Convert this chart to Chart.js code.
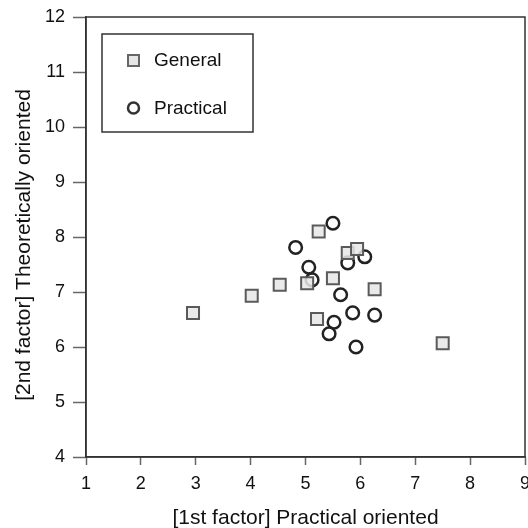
<!DOCTYPE html>
<html>
<head>
<meta charset="utf-8">
<script src="https://cdn.jsdelivr.net/npm/chart.js@4"></script>
<style>
  html, body { margin: 0; padding: 0; background: #fff; }
  #wrap { width: 528px; height: 528px; }
</style>
</head>
<body>
<div id="wrap"><canvas id="chart" width="528" height="528"></canvas></div>
<script>
// General (squares)
const generalX = [2.95, 4.02, 4.53, 5.03, 5.21, 5.24, 5.5, 5.77, 5.94, 6.26, 7.5];
const generalY = [6.62, 6.93, 7.13, 7.16, 6.51, 8.1, 7.25, 7.71, 7.78, 7.05, 6.07];
// Practical (circles)
const practicalX = [4.82, 5.06, 5.12, 5.5, 5.77, 6.08, 5.64, 5.86, 6.26, 5.52, 5.43, 5.92];
const practicalY = [7.81, 7.45, 7.22, 8.25, 7.53, 7.64, 6.95, 6.62, 6.58, 6.45, 6.24, 6.0];

const xTicks = [1, 2, 3, 4, 5, 6, 7, 8, 9];
const yTicks = [4, 5, 6, 7, 8, 9, 10, 11, 12];

const font = 'Liberation Sans, Arial, Helvetica, sans-serif';
const yTitle = '[2nd factor] Theoretically oriented';

function pts(xs, ys) {
  return xs.map((x, i) => ({ x: x, y: ys[i] }));
}

// frame, y title and legend box drawn on top of the chart
const framePlugin = {
  id: 'frame',
  afterDraw(chart) {
    const ctx = chart.ctx;
    const a = chart.chartArea;
    ctx.save();
    ctx.strokeStyle = '#333';
    ctx.lineWidth = 1.5;
    ctx.strokeRect(a.left, a.top, a.right - a.left, a.bottom - a.top);

    // y axis title (sits a bit below the middle in the original)
    ctx.save();
    ctx.translate(24, (a.top + a.bottom) / 2 + 8);
    ctx.rotate(-Math.PI / 2);
    ctx.font = '21px ' + font;
    ctx.fillStyle = '#111';
    ctx.textAlign = 'center';
    ctx.textBaseline = 'middle';
    ctx.fillText(yTitle, 0, 0);
    ctx.restore();

    // legend
    const lx = a.left + 16, ly = a.top + 17;
    ctx.lineWidth = 1.5;
    ctx.strokeStyle = '#333';
    ctx.strokeRect(lx, ly, 151, 98);
    ctx.font = '19px ' + font;
    ctx.fillStyle = '#111';
    ctx.textBaseline = 'middle';
    ctx.fillText('General', lx + 52, ly + 27);
    ctx.fillText('Practical', lx + 52, ly + 75);
    // markers
    ctx.fillStyle = '#e6e6e6';
    ctx.strokeStyle = '#666';
    ctx.lineWidth = 2;
    ctx.fillRect(lx + 26, ly + 21, 11, 11);
    ctx.strokeRect(lx + 26, ly + 21, 11, 11);
    ctx.strokeStyle = '#333';
    ctx.lineWidth = 2.5;
    ctx.beginPath();
    ctx.arc(lx + 31.5, ly + 74, 5.5, 0, Math.PI * 2);
    ctx.stroke();
    ctx.restore();
  }
};

const config = {
  type: 'scatter',
  data: {
    datasets: [
      {
        label: 'General',
        data: pts(generalX, generalY),
        pointStyle: 'rect',
        pointRadius: 8.5,
        pointHoverRadius: 8.5,
        backgroundColor: 'rgba(230,230,230,0.85)',
        borderColor: '#5a5a5a',
        borderWidth: 2
      },
      {
        label: 'Practical',
        data: pts(practicalX, practicalY),
        pointStyle: 'circle',
        pointRadius: 6.3,
        pointHoverRadius: 6.3,
        backgroundColor: 'rgba(0,0,0,0)',
        borderColor: '#222',
        borderWidth: 2.5
      }
    ]
  },
  options: {
    responsive: false,
    animation: false,
    layout: { autoPadding: false, padding: { top: 17, right: 3, left: 0, bottom: 0 } },
    plugins: {
      legend: { display: false },
      tooltip: { enabled: false }
    },
    scales: {
      x: {
        type: 'linear',
        min: 1,
        max: 9,
        afterBuildTicks: (s) => { s.ticks = xTicks.map(v => ({ value: v })); },
        afterFit: (s) => { s.height = 71; s.paddingLeft = 0; s.paddingRight = 0; },
        grid: { drawOnChartArea: false, tickLength: 8, color: '#666', tickWidth: 1.5 },
        border: { color: '#333', width: 1.5 },
        ticks: { color: '#111', font: { family: font, size: 18 }, padding: 8, maxRotation: 0 },
        title: {
          display: true,
          text: '[1st factor] Practical oriented',
          color: '#111',
          font: { family: font, size: 21 },
          padding: { top: 0, bottom: -3 }
        }
      },
      y: {
        type: 'linear',
        min: 4,
        max: 12,
        afterBuildTicks: (s) => { s.ticks = yTicks.map(v => ({ value: v })); },
        afterFit: (s) => { s.width = 86; s.paddingTop = 0; s.paddingBottom = 0; },
        grid: { drawOnChartArea: false, tickLength: 13, color: '#666', tickWidth: 1.5 },
        border: { color: '#333', width: 1.5 },
        ticks: { color: '#111', font: { family: font, size: 18 }, padding: 8 },
        title: { display: false }
      }
    }
  },
  plugins: [framePlugin]
};

const myChart = new Chart(document.getElementById('chart').getContext('2d'), config);
</script>
</body>
</html>
